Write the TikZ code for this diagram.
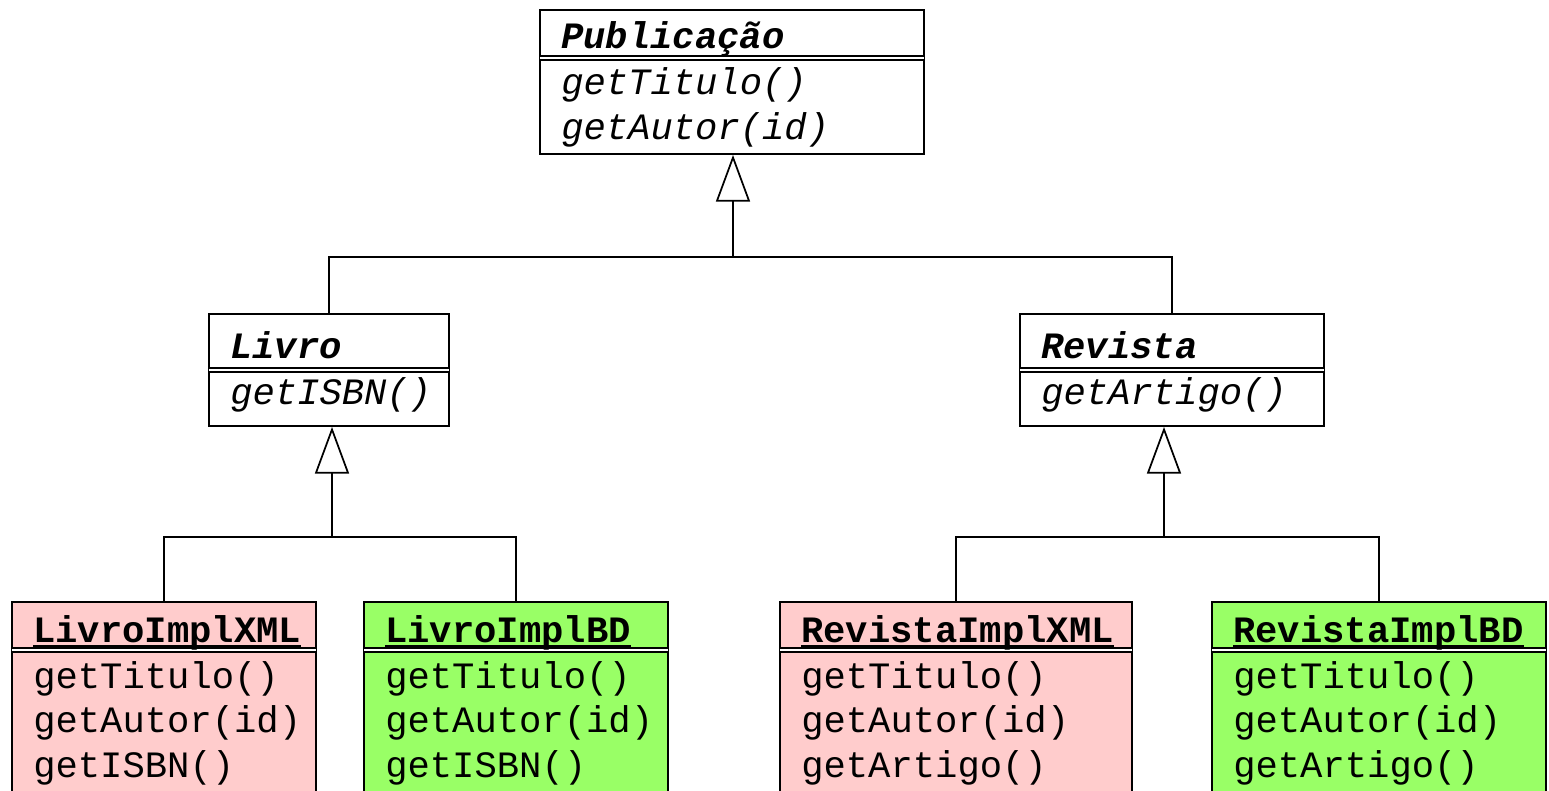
\documentclass[tikz,border=0pt]{standalone}
\usepackage{fontspec}
\setmainfont{Liberation Mono}
\usetikzlibrary{arrows.meta,fit}

\definecolor{xmlpink}{RGB}{255,204,204}
\definecolor{bdgreen}{RGB}{153,255,102}

\tikzset{
  clsbox/.style={draw, line width=1.4pt, inner sep=0pt},
  sepline/.style={double, line width=1.3pt, double distance=2pt},
  clsname/.style={anchor=base west, inner sep=0pt, font=\fontsize{27.9}{33}\selectfont\bfseries\itshape},
  implname/.style={anchor=base west, inner sep=0pt, font=\fontsize{27.9}{33}\selectfont\bfseries},
  absmeth/.style={anchor=base west, inner sep=0pt, font=\fontsize{27.9}{33}\selectfont\itshape},
  meth/.style={anchor=base west, inner sep=0pt, font=\fontsize{27.9}{33}\selectfont},
  ulline/.style={line width=1.4pt},
  genstem/.style={line width=2pt, -{Triangle[open, length=35pt, width=25.5pt, line width=1.3pt]}},
  genbranch/.style={line width=1.4pt}
}

\begin{document}
\begin{tikzpicture}[x=0.75pt,y=0.75pt,yscale=-1,xscale=1]
\useasboundingbox (0,0) rectangle (1549,790);
\clip (0,0) rectangle (1549,790);

%Shape: Rectangle [Publicacao]
\node[clsbox, fill=white, fit={(540,10) (924,154)}] (pub) {};
\draw[sepline] (540,58) -- (924,58);
% Text Node
\node[clsname] (pubN) at (561,48) {Publicação};
\node[absmeth] (pubM1) at (561,94) {getTitulo()};
\node[absmeth] (pubM2) at (561,139) {getAutor(id)};

%Shape: Rectangle [Livro]
\node[clsbox, fill=white, fit={(209,314) (449,426)}] (livro) {};
\draw[sepline] (209,370) -- (449,370);
% Text Node
\node[clsname] (livroN) at (230,358) {Livro};
\node[absmeth] (livroM1) at (230,404) {getISBN()};

%Shape: Rectangle [Revista]
\node[clsbox, fill=white, fit={(1020,314) (1324,426)}] (revista) {};
\draw[sepline] (1020,370) -- (1324,370);
% Text Node
\node[clsname] (revistaN) at (1041,358) {Revista};
\node[absmeth] (revistaM1) at (1041,404) {getArtigo()};

%Shape: Rectangle [LivroImplXML]
\node[clsbox, fill=xmlpink, fit={(12,602) (316,800)}] (lxml) {};
\draw[sepline] (12,650) -- (316,650);
% Text Node
\node[implname] (lxmlN) at (33,642) {LivroImplXML};
\draw[ulline] ([yshift=3pt]lxmlN.base west) -- ([yshift=3pt]lxmlN.base east);
\node[meth] (lxmlM1) at (33,688) {getTitulo()};
\node[meth] (lxmlM2) at (33,732) {getAutor(id)};
\node[meth] (lxmlM3) at (33,777) {getISBN()};

%Shape: Rectangle [LivroImplBD]
\node[clsbox, fill=bdgreen, fit={(364,602) (668,800)}] (lbd) {};
\draw[sepline] (364,650) -- (668,650);
% Text Node
\node[implname] (lbdN) at (385,642) {LivroImplBD};
\draw[ulline] ([yshift=3pt]lbdN.base west) -- ([yshift=3pt]lbdN.base east);
\node[meth] (lbdM1) at (385,688) {getTitulo()};
\node[meth] (lbdM2) at (385,732) {getAutor(id)};
\node[meth] (lbdM3) at (385,777) {getISBN()};

%Shape: Rectangle [RevistaImplXML]
\node[clsbox, fill=xmlpink, fit={(780,602) (1132,800)}] (rxml) {};
\draw[sepline] (780,650) -- (1132,650);
% Text Node
\node[implname] (rxmlN) at (801,642) {RevistaImplXML};
\draw[ulline] ([yshift=3pt]rxmlN.base west) -- ([yshift=3pt]rxmlN.base east);
\node[meth] (rxmlM1) at (801,688) {getTitulo()};
\node[meth] (rxmlM2) at (801,732) {getAutor(id)};
\node[meth] (rxmlM3) at (801,777) {getArtigo()};

%Shape: Rectangle [RevistaImplBD]
\node[clsbox, fill=bdgreen, fit={(1212,602) (1546,800)}] (rbd) {};
\draw[sepline] (1212,650) -- (1546,650);
% Text Node
\node[implname] (rbdN) at (1233,642) {RevistaImplBD};
\draw[ulline] ([yshift=3pt]rbdN.base west) -- ([yshift=3pt]rbdN.base east);
\node[meth] (rbdM1) at (1233,688) {getTitulo()};
\node[meth] (rbdM2) at (1233,732) {getAutor(id)};
\node[meth] (rbdM3) at (1233,777) {getArtigo()};

%Straight Lines [generalisation]
\coordinate (jp) at (733,257);
\coordinate (jl) at (332,537);
\coordinate (jr) at (1164,537);
\draw[genstem] (jp) -- (jp |- pub.south);
\draw[genbranch] (livro.north) |- (jp) -| (revista.north);
\draw[genstem] (jl) -- (jl |- livro.south);
\draw[genbranch] (lxml.north) |- (jl) -| (lbd.north);
\draw[genstem] (jr) -- (jr |- revista.south);
\draw[genbranch] (rxml.north) |- (jr) -| (rbd.north);

\end{tikzpicture}
\end{document}
